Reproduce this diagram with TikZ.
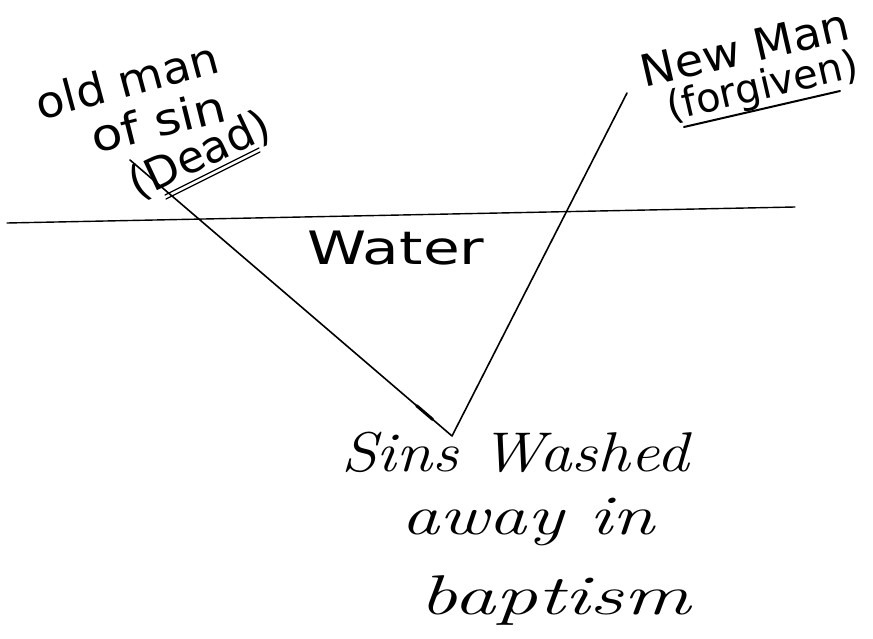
\documentclass[tikz,border=0pt]{standalone}
\usepackage{fontspec}
\setsansfont{DejaVu Sans}
\usetikzlibrary{calc}
\begin{document}
\begin{tikzpicture}[x=1pt,y=-1pt,
  ink/.style={draw=black,line width=1.6pt,line cap=round,line join=round},
  hand/.style={font=\sffamily\fontsize{44}{48}\selectfont,inner sep=0pt},
  script/.style={font=\itshape\fontsize{56}{60}\selectfont,inner sep=0pt}]
\useasboundingbox (0,0) rectangle (873,639);
% water line
\coordinate (wl) at (7,223);
\coordinate (wr) at (795,207);
\draw[ink,line width=1.4pt] (wl) -- (wr);
\node[hand,font=\sffamily\fontsize{46}{50}\selectfont,xscale=1.3] (water) at (396,248) {Water};
% V path
\coordinate (start) at (130,160);
\coordinate (vertex) at (452,436);
\coordinate (finish) at (627,93);
\draw[ink] (start) -- (vertex) -- (finish);
\draw[ink,line width=3pt] ($(vertex)!0.06!(start)$) -- ($(vertex)!0.11!(start)$);
% labels upper left
\node[hand,rotate=15,xscale=1.05] (old) at (127,80) {old man};
\node[hand,rotate=14,xscale=1.15] (ofsin) at (158,121) {of sin};
\node[hand,rotate=25] (dead) at (200,155) {(Dead)};
\coordinate (du1) at (165,195);
\coordinate (du2) at (259,148);
\draw[ink,line width=1.3pt] (du1) -- (du2);
\draw[ink,line width=1.3pt] ($(du1)+(1,4)$) -- ($(du2)+(1,4)$);
% labels upper right
\node[hand,rotate=13,xscale=1.05] (new) at (745,48) {New Man};
\node[hand,rotate=13,font=\sffamily\fontsize{40}{44}\selectfont] (forg) at (763,88) {(forgiven)};
\coordinate (fu1) at (684,127);
\coordinate (fu2) at (840,91);
\draw[ink,line width=2pt] (fu1) -- (fu2);
% bottom label
\node[script,xscale=1.16] (sins) at (515,452) {Sins Washed};
\node[script,xscale=1.36] (away) at (528,522) {away in};
\node[script,xscale=1.5] (bapt) at (555,600) {baptism};
\end{tikzpicture}
\end{document}
